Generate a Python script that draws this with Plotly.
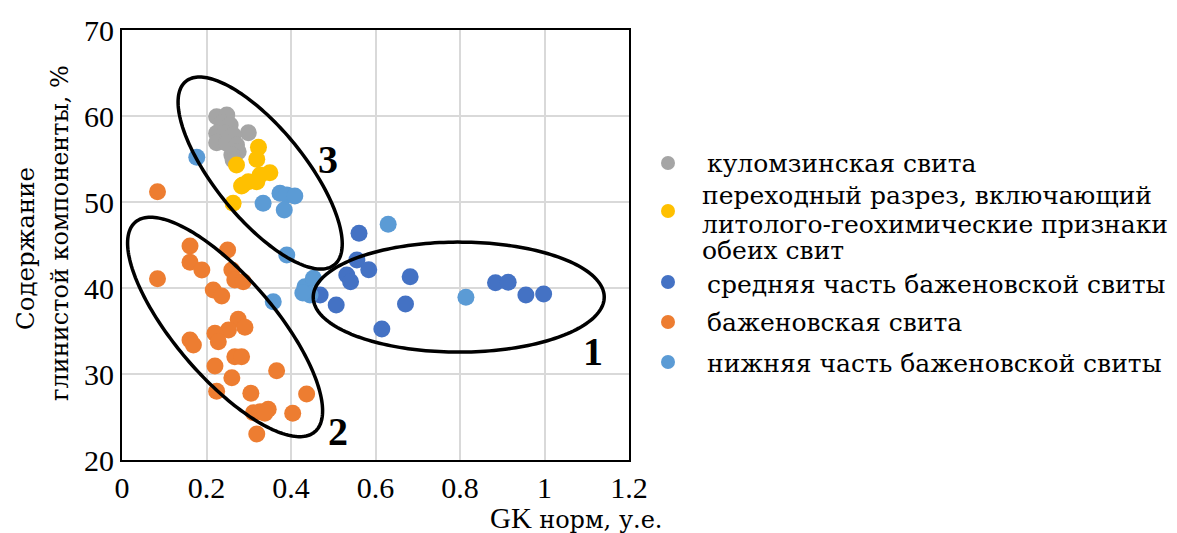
import numpy as np
import plotly.graph_objects as go

# ---------------- data ----------------
series_names = [
    "куломзинская свита",
    "переходный разрез, включающий<br>литолого-геохимические признаки<br>обеих свит",
    "средняя часть баженовской свиты",
    "баженовская свита",
    "нижняя часть баженовской свиты",
]
series_colors = ["#A5A5A5", "#FFC000", "#4472C4", "#ED7D31", "#5B9BD5"]

kulom_x = [0.224, 0.248, 0.237, 0.256, 0.299, 0.224, 0.244, 0.263, 0.224, 0.248, 0.271, 0.275, 0.260, 0.263]
kulom_y = [59.92, 60.12, 59.19, 58.95, 58.06, 57.99, 57.99, 57.79, 56.90, 56.83, 56.63, 55.85, 55.47, 54.88]

trans_x = [0.323, 0.319, 0.271, 0.350, 0.327, 0.319, 0.299, 0.283, 0.286, 0.263]
trans_y = [56.36, 54.97, 54.30, 53.41, 53.14, 52.36, 52.36, 51.86, 51.98, 49.85]

mid_x = [0.561, 0.556, 0.584, 0.532, 0.541, 0.682, 0.469, 0.507, 0.671, 0.615, 0.884, 0.914, 0.956, 0.998]
mid_y = [46.36, 43.26, 42.13, 41.51, 40.73, 41.31, 39.19, 38.02, 38.14, 35.23, 40.62, 40.66, 39.19, 39.30]

bazh_x = [0.084, 0.161, 0.250, 0.161, 0.189, 0.260, 0.084, 0.267, 0.287, 0.216, 0.236,
          0.275, 0.291, 0.252, 0.220, 0.228, 0.161, 0.169, 0.267, 0.283, 0.220, 0.366,
          0.260, 0.224, 0.305, 0.437, 0.311, 0.327, 0.346, 0.338, 0.404, 0.319]
bazh_y = [51.20, 44.88, 44.42, 42.99, 42.09, 42.09, 41.08, 40.93, 40.73, 39.77, 39.07,
          36.36, 35.43, 35.12, 34.73, 33.76, 33.95, 33.37, 32.01, 32.01, 30.93, 30.38,
          29.57, 27.99, 27.76, 27.67, 25.50, 25.62, 25.90, 25.43, 25.43, 23.02]

low_x = [0.177, 0.334, 0.374, 0.390, 0.409, 0.384, 0.390, 0.433, 0.453, 0.445, 0.428, 0.358, 0.630, 0.814]
low_y = [55.20, 49.85, 51.01, 50.81, 50.70, 49.07, 43.84, 40.15, 41.13, 39.19, 39.42, 38.41, 47.41, 38.92]

series_x = [kulom_x, trans_x, mid_x, bazh_x, low_x]
series_y = [kulom_y, trans_y, mid_y, bazh_y, low_y]

x_range = [0, 1.2]
y_range = [20, 70]
x_ticks = [0, 0.2, 0.4, 0.6, 0.8, 1, 1.2]
y_ticks = [20, 30, 40, 50, 60, 70]

groups = [
    dict(cx=0.797, cy=38.94, a=145.5, b=55, ang=0.0, label="1", lx=1.115, ly=32.6),
    dict(cx=0.244, cy=35.47, a=138, b=50, ang=49.4, label="2", lx=0.511, ly=23.3),
    dict(cx=0.327, cy=53.37, a=118, b=45, ang=51.0, label="3", lx=0.488, ly=54.9),
]

# ---------------- layout constants ----------------
W, H = 1177, 533
ML, MR, MT, MB = 122, 548, 30, 73
PW, PH = W - ML - MR, H - MT - MB
xs = PW / (x_range[1] - x_range[0])
ys = PH / (y_range[1] - y_range[0])
F_LAT = "Liberation Serif"          # latin & digits
F_CYR = "DejaVu Serif"              # cyrillic serif


def paper_x(px):
    return (px - ML) / PW


def paper_y(py):
    return (H - MB - py) / PH


fig = go.Figure()
for name, col, xv, yv in zip(series_names, series_colors, series_x, series_y):
    fig.add_trace(go.Scatter(
        x=xv, y=yv, mode="markers", name=name.replace("<br>", " "),
        marker=dict(size=17, color=col, line=dict(width=0)),
        showlegend=False, hoverinfo="x+y",
    ))

shapes = []
annotations = []
t = np.linspace(0, 2 * np.pi, 200)
for g in groups:
    th = np.deg2rad(g["ang"])
    ex = g["a"] * np.cos(t)
    ey = g["b"] * np.sin(t)
    sx = ex * np.cos(th) - ey * np.sin(th)
    sy = ex * np.sin(th) + ey * np.cos(th)
    dx = g["cx"] + sx / xs
    dy = g["cy"] - sy / ys
    path = "M " + " L ".join(f"{a:.5f},{b:.4f}" for a, b in zip(dx, dy)) + " Z"
    shapes.append(dict(type="path", xref="x", yref="y", path=path,
                       line=dict(color="black", width=3.5), layer="above"))
    annotations.append(dict(x=g["lx"], y=g["ly"], xref="x", yref="y", text=f"<b>{g['label']}</b>",
                            showarrow=False, font=dict(family=F_LAT, size=40, color="black")))

leg_marker_y = [163, 211, 282, 322, 362]
leg_text = [
    [(705, 164, series_names[0])],
    [(700, 196, "переходный разрез, включающий"),
     (700, 224, "литолого-геохимические признаки"),
     (700, 250, "обеих свит")],
    [(705, 284, "средняя часть баженовской свиты")],
    [(705, 322, "баженовская свита")],
    [(705, 363, "нижняя часть баженовской свиты")],
]
for my, col, lines in zip(leg_marker_y, series_colors, leg_text):
    r = 7
    shapes.append(dict(type="circle", xref="paper", yref="paper",
                       x0=paper_x(668 - r), x1=paper_x(668 + r),
                       y0=paper_y(my + r), y1=paper_y(my - r),
                       fillcolor=col, line=dict(width=0)))
    for (tx, ty, txt) in lines:
        annotations.append(dict(x=paper_x(tx), y=paper_y(ty), xref="paper", yref="paper",
                                xanchor="left", yanchor="middle", text=txt, showarrow=False,
                                font=dict(family=F_CYR, size=25, color="black")))

annotations.append(dict(
    x=paper_x(664), y=paper_y(518), xref="paper", yref="paper",
    xanchor="right", yanchor="middle",
    text="GK <span style='font-family:DejaVu Serif;font-size:24px'>норм, у.е.</span>",
    showarrow=False, font=dict(family=F_LAT, size=29, color="black")))
annotations.append(dict(x=paper_x(25), y=paper_y(249), xref="paper", yref="paper",
                        xanchor="center", yanchor="middle", text="Содержание", textangle=-90,
                        showarrow=False, font=dict(family=F_CYR, size=24.5, color="black")))
annotations.append(dict(x=paper_x(60), y=paper_y(233), xref="paper", yref="paper",
                        xanchor="center", yanchor="middle", text="глинистой компоненты, %",
                        textangle=-90, showarrow=False, font=dict(family=F_CYR, size=24, color="black")))

fig.update_layout(
    width=W, height=H,
    margin=dict(l=ML, r=MR, t=MT, b=MB, pad=0),
    paper_bgcolor="white", plot_bgcolor="white",
    font=dict(family=F_LAT, size=30, color="black"),
    shapes=shapes, annotations=annotations, showlegend=False,
    xaxis=dict(range=x_range, tickvals=x_ticks, ticktext=[f"{v:g}" for v in x_ticks],
               showgrid=True, gridcolor="#D9D9D9", gridwidth=2, zeroline=False,
               showline=True, linecolor="black", linewidth=2, mirror=True,
               ticks="", tickfont=dict(family=F_LAT, size=30, color="black")),
    yaxis=dict(range=y_range, tickvals=y_ticks, showgrid=True, gridcolor="#D9D9D9", gridwidth=2,
               zeroline=False, showline=True, linecolor="black", linewidth=2, mirror=True,
               ticks="", tickfont=dict(family=F_LAT, size=30, color="black")),
)

fig.write_html("out.html")
